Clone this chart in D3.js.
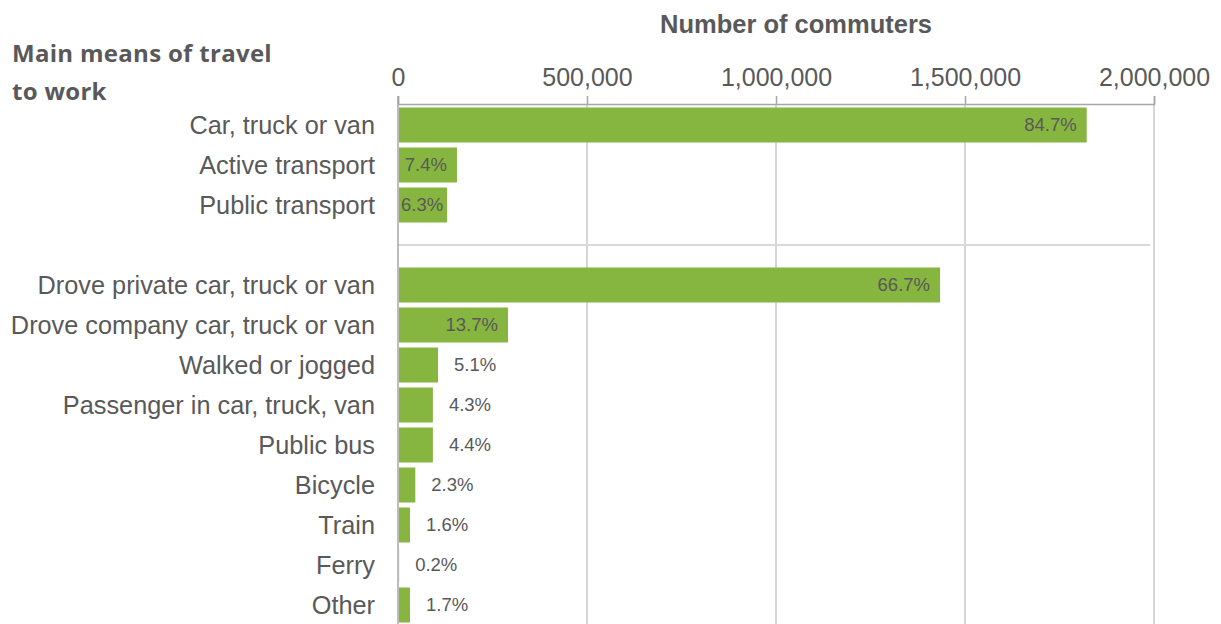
<!DOCTYPE html>
<html>
<head>
<meta charset="utf-8">
<script src="https://cdn.jsdelivr.net/npm/d3@7"></script>
<style>
  body { margin: 0; background: #fff; }
  svg { display: block; }
</style>
</head>
<body>
<div id="chart"></div>
<script>
// summary groups
const summaryCats = ["Car, truck or van", "Active transport", "Public transport"];
const summaryValues = [1822000, 156000, 129600];
const summaryShares = ["84.7%", "7.4%", "6.3%"];

// detailed modes
const detailCats = [
  "Drove private car, truck or van",
  "Drove company car, truck or van",
  "Walked or jogged",
  "Passenger in car, truck, van",
  "Public bus",
  "Bicycle",
  "Train",
  "Ferry",
  "Other"
];
const detailValues = [1434000, 291000, 105800, 92300, 92300, 45800, 31700, 3000, 31700];
const detailShares = ["66.7%", "13.7%", "5.1%", "4.3%", "4.4%", "2.3%", "1.6%", "0.2%", "1.7%"];

const xTicks = [0, 500000, 1000000, 1500000, 2000000];

const W = 1221, H = 624;
const green = "#86b540";
const textCol = "#595959";

// build rows, with an empty slot between the two groups
const gapKey = "__gap__";
const rows = summaryCats.map((c, i) => ({cat: c, value: summaryValues[i], share: summaryShares[i]}))
  .concat(detailCats.map((c, i) => ({cat: c, value: detailValues[i], share: detailShares[i]})));
const domain = summaryCats.concat([gapKey], detailCats);

const svg = d3.select("#chart").append("svg")
  .attr("width", W)
  .attr("height", H);

const x = d3.scaleLinear()
  .domain([0, 2000000])
  .range([398, 1154]);

const y = d3.scaleBand()
  .domain(domain)
  .range([105, 625])
  .paddingInner(0.125)
  .paddingOuter(0.0625);

const axisTop = 104;

// vertical gridlines
svg.append("g")
  .selectAll("line")
  .data(xTicks.slice(1))
  .join("line")
    .attr("x1", d => x(d)).attr("x2", d => x(d))
    .attr("y1", axisTop).attr("y2", H)
    .attr("stroke", "#c8c8c8")
    .attr("stroke-width", 1.5);

// separator between groups
const gapMid = y(gapKey) + y.bandwidth() / 2;
svg.append("line")
  .attr("x1", x(0)).attr("x2", x(1990000))
  .attr("y1", gapMid).attr("y2", gapMid)
  .attr("stroke", "#d9d9d9")
  .attr("stroke-width", 2);

// top axis
const xAxis = svg.append("g")
  .attr("transform", `translate(0,${axisTop})`)
  .call(d3.axisTop(x).tickValues(xTicks).tickFormat(d3.format(",")).tickSize(8).tickPadding(10));
xAxis.select(".domain").attr("stroke", "#a6a6a6").attr("stroke-width", 1.5);
xAxis.selectAll(".tick line").attr("stroke", "#a6a6a6").attr("stroke-width", 1.5);
xAxis.selectAll(".tick text")
  .attr("fill", textCol)
  .style("font-family", "'Liberation Sans', Arial, sans-serif")
  .style("font-size", "25px");

// left axis line
svg.append("line")
  .attr("x1", x(0)).attr("x2", x(0))
  .attr("y1", axisTop - 8).attr("y2", H)
  .attr("stroke", "#a6a6a6")
  .attr("stroke-width", 1.5);

// bars
svg.append("g")
  .selectAll("rect")
  .data(rows)
  .join("rect")
    .attr("x", x(0) + 1)
    .attr("y", d => y(d.cat))
    .attr("width", d => Math.max(0, x(d.value) - x(0) - 1))
    .attr("height", y.bandwidth())
    .attr("fill", green);

// category labels
svg.append("g")
  .selectAll("text")
  .data(rows)
  .join("text")
    .attr("x", 375)
    .attr("y", d => y(d.cat) + y.bandwidth() / 2)
    .attr("dy", "0.35em")
    .attr("text-anchor", "end")
    .attr("fill", textCol)
    .style("font-family", "'Liberation Sans', Arial, sans-serif")
    .style("font-size", "25.3px")
    .text(d => d.cat);

// share labels
const shareLabels = svg.append("g")
  .selectAll("text")
  .data(rows)
  .join("text")
    .attr("y", d => y(d.cat) + y.bandwidth() / 2)
    .attr("dy", "0.35em")
    .attr("fill", textCol)
    .style("font-family", "'Liberation Sans', Arial, sans-serif")
    .style("font-size", "18.5px")
    .text(d => d.share);

shareLabels.each(function(d) {
  const t = d3.select(this);
  const w = this.getComputedTextLength();
  const end = x(d.value);
  if (d.value >= 120000) {
    if (end - 10 - w < x(0) + 3) {
      t.attr("x", x(0) + 3).attr("text-anchor", "start");
    } else {
      t.attr("x", end - 10).attr("text-anchor", "end");
    }
  } else {
    t.attr("x", end + 16).attr("text-anchor", "start");
  }
});

// titles
svg.append("text")
  .attr("x", 796)
  .attr("y", 33)
  .attr("text-anchor", "middle")
  .attr("fill", textCol)
  .style("font-family", "'Liberation Sans', Arial, sans-serif")
  .style("font-weight", "bold")
  .style("font-size", "25.5px")
  .text("Number of commuters");

const leftTitle = svg.append("text")
  .attr("fill", textCol)
  .style("font-family", "'Open Sans', Lato, sans-serif")
  .style("font-weight", "bold")
  .style("font-size", "24px")
  .style("letter-spacing", "0.3px");
leftTitle.append("tspan").attr("x", 12).attr("y", 62).text("Main means of travel");
leftTitle.append("tspan").attr("x", 12).attr("y", 100).text("to work");
</script>
</body>
</html>
